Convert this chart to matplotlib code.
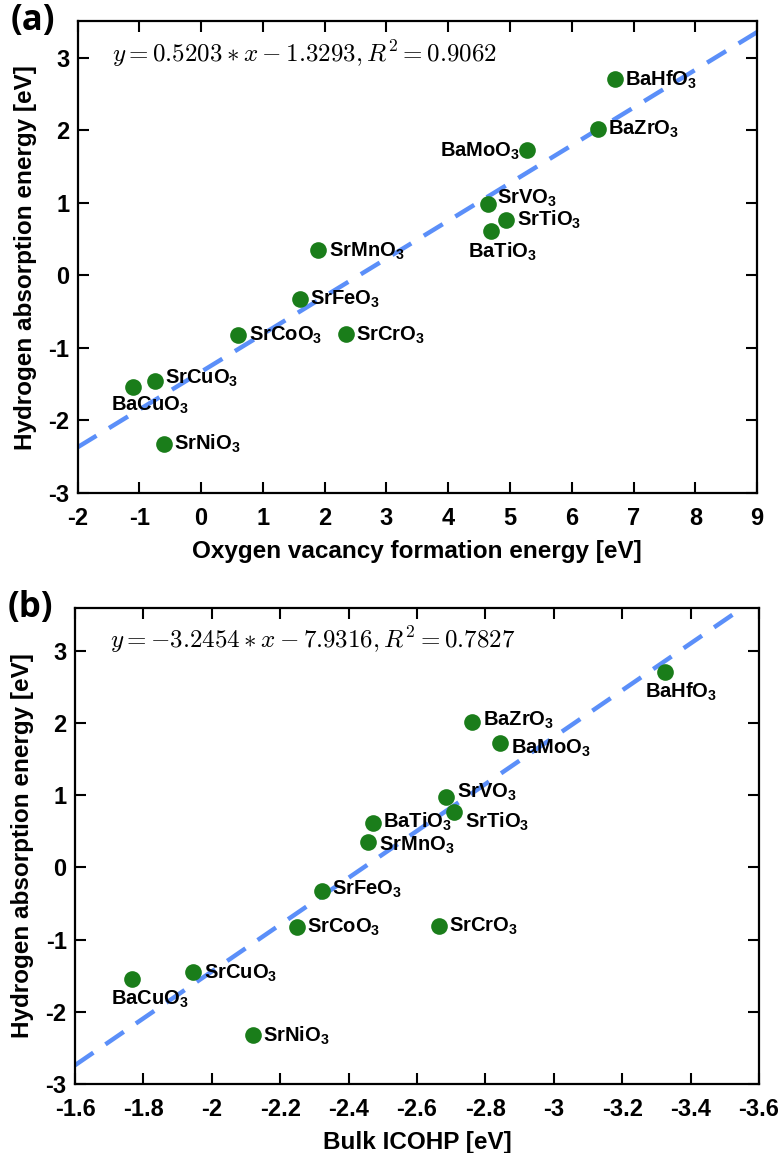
import matplotlib
matplotlib.use('Agg')
import matplotlib.pyplot as plt

# compounds (same order in both panels)
names = ['BaHfO', 'BaZrO', 'BaMoO', 'SrVO', 'SrTiO', 'BaTiO', 'SrMnO',
         'SrFeO', 'SrCoO', 'SrCrO', 'SrCuO', 'BaCuO', 'SrNiO']

# hydrogen absorption energy [eV]
h_abs = [2.70, 2.02, 1.73, 0.98, 0.77, 0.61, 0.35,
         -0.32, -0.82, -0.81, -1.45, -1.54, -2.32]

# oxygen vacancy formation energy [eV]
e_vac = [6.70, 6.42, 5.27, 4.65, 4.94, 4.69, 1.90,
         1.60, 0.60, 2.34, -0.75, -1.10, -0.60]

# bulk ICOHP [eV]
icohp = [-3.324, -2.762, -2.843, -2.686, -2.708, -2.470, -2.457,
         -2.322, -2.248, -2.663, -1.946, -1.767, -2.120]

# linear fits from the figure
fit_a = (0.5203, -1.3293, 0.9062)
fit_b = (-3.2454, -7.9316, 0.7827)

plt.rcParams['font.family'] = 'Liberation Sans'
plt.rcParams['font.weight'] = 'bold'
plt.rcParams['axes.unicode_minus'] = False
plt.rcParams['mathtext.fontset'] = 'custom'
plt.rcParams['mathtext.rm'] = 'Liberation Sans:bold'
plt.rcParams['mathtext.it'] = 'Liberation Sans:bold'
plt.rcParams['mathtext.bf'] = 'Liberation Sans:bold'

green = '#1a7d1a'
blue = '#5b8ff9'

# label placement (offset in points, ha)
R = (7.5, -4.5, 'left')
lab_a = {'BaHfO': R, 'BaZrO': R, 'BaMoO': (-5, -5, 'right'),
         'SrVO': (6, 0.5, 'left'), 'SrTiO': R,
         'BaTiO': (8.6, -19, 'center'), 'SrMnO': R, 'SrFeO': R, 'SrCoO': R,
         'SrCrO': R, 'SrCuO': (7.5, -2.3, 'left'),
         'BaCuO': (12, -16.7, 'center'), 'SrNiO': R}
lab_b = {'BaHfO': (11.5, -18, 'center'), 'BaZrO': (7.5, -3.3, 'left'),
         'BaMoO': (7.5, -8.1, 'left'), 'SrVO': (7.5, -0.8, 'left'),
         'SrTiO': (8, -11.5, 'left'), 'BaTiO': (7.5, -3.3, 'left'),
         'SrMnO': (7.5, -5.8, 'left'),
         'SrFeO': (7.5, -3.3, 'left'), 'SrCoO': R, 'SrCrO': R, 'SrCuO': R,
         'BaCuO': (13, -19, 'center'), 'SrNiO': R}

fig = plt.figure(figsize=(7.83, 11.53), dpi=100)
ax_a = fig.add_axes([0.099, 0.5724, 0.868, 0.4090])
ax_b = fig.add_axes([0.0958, 0.0598, 0.8736, 0.4133])


def panel(ax, xs, fit, xlim, ylim, xticks, xlabel, labels, tag):
    k, b, r2 = fit
    x0, x1 = xlim
    ax.plot([x0, x1], [k * x0 + b, k * x1 + b], color=blue, lw=3.2,
            dashes=(5.0, 3.3), zorder=1)
    ax.plot(xs, h_abs, 'o', color=green, ms=12, mec='none', zorder=2)
    for n, x, y in zip(names, xs, h_abs):
        dx, dy, ha = labels[n]
        ax.annotate(n + r'$_3$', (x, y), xytext=(dx, dy),
                    textcoords='offset points', ha=ha, va='baseline',
                    fontsize=14.5, fontweight='bold', zorder=3)
    ax.set_xlim(xlim)
    ax.set_ylim(ylim)
    ax.set_xticks(xticks)
    ax.set_xticklabels(['%g' % t for t in xticks])
    ax.set_yticks(range(-3, 4))
    ax.tick_params(direction='in', length=8, width=1.5, top=True,
                   right=True, labelsize=17)
    ax.tick_params(axis='x', pad=10)
    ax.tick_params(axis='y', pad=6)
    for s in ax.spines.values():
        s.set_linewidth(1.6)
    ax.set_xlabel(xlabel, fontsize=17.5, fontweight='bold', labelpad=7)
    ax.set_ylabel('Hydrogen absorption energy [eV]', fontsize=17.5,
                  fontweight='bold', labelpad=8)
    sign = '-' if b < 0 else '+'
    eq = r'$y = %.4f \ast x %s %.4f, R^2 = %.4f$' % (k, sign, abs(b), r2)
    ax.text(0.051, 0.9145, eq, transform=ax.transAxes, fontsize=18,
            math_fontfamily='cm', va='baseline', ha='left')
    ax.text(-0.098, 1.0, tag, transform=ax.transAxes, fontsize=25,
            fontweight='bold', family='Open Sans', va='center', ha='left')


panel(ax_a, e_vac, fit_a, (-2, 9), (-3, 3.5), list(range(-2, 10)),
      'Oxygen vacancy formation energy [eV]', lab_a, '(a)')
panel(ax_b, icohp, fit_b, (-1.6, -3.6), (-3, 3.6),
      [-1.6 - 0.2 * i for i in range(11)], 'Bulk ICOHP [eV]', lab_b, '(b)')

fig.savefig('out.png', dpi=100)
